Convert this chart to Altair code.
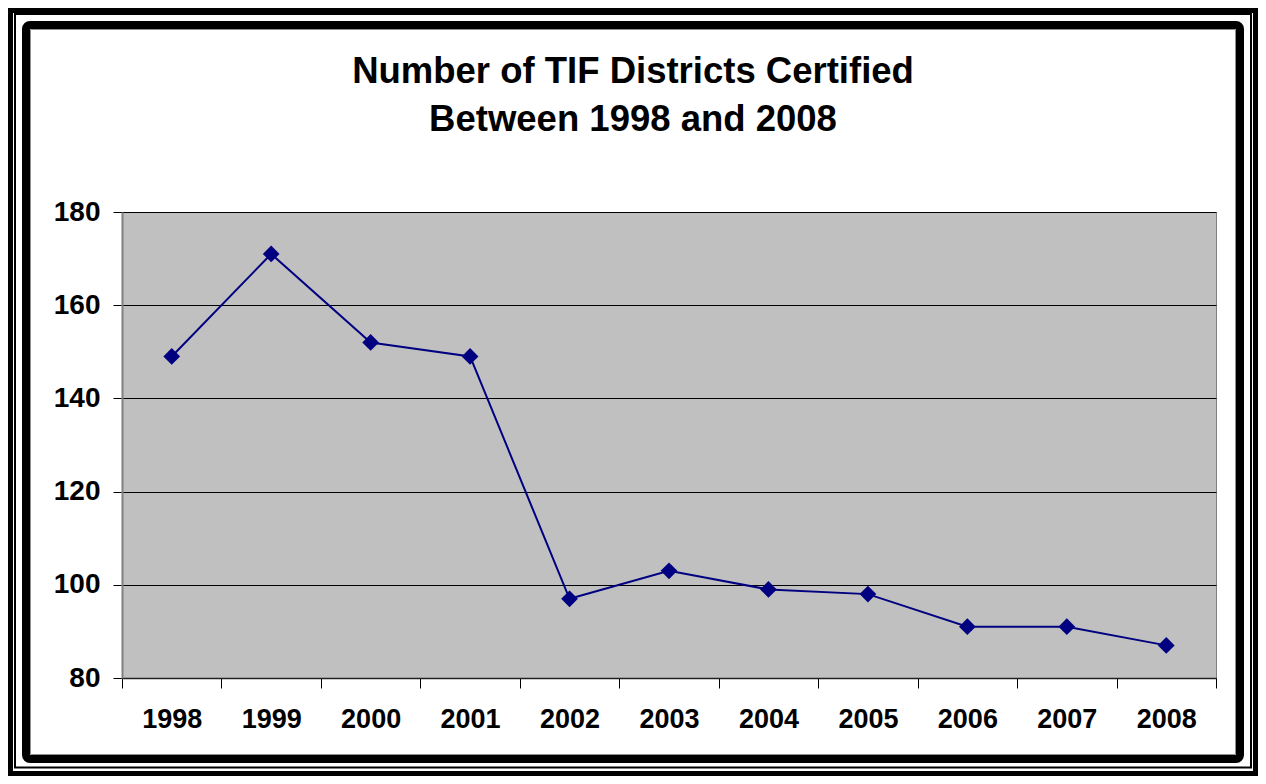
import altair as alt
import pandas as pd

years = ["1998", "1999", "2000", "2001", "2002", "2003", "2004", "2005", "2006", "2007", "2008"]
counts = [149, 171, 152, 149, 97, 103, 99, 98, 91, 91, 87]
y_ticks = [80, 100, 120, 140, 160, 180]
title_lines = ["Number of TIF Districts Certified", "Between 1998 and 2008"]

FONT = "Liberation Sans, Arial, sans-serif"

df = pd.DataFrame({"year": years, "count": counts})
dummy = pd.DataFrame({"k": [0]})

x_enc = alt.X(
    "year:O",
    sort=years,
    scale=alt.Scale(paddingInner=0, paddingOuter=0),
    axis=alt.Axis(
        title=None, labelAngle=0, tickBand="extent", tickSize=10,
        labelPadding=18, labelFontSize=27, labelFont=FONT, labelFontWeight="bold",
        labelColor="black", tickColor="black", domainColor="#202020", domainWidth=1.5,
        grid=False,
    ),
)
y_enc = alt.Y(
    "count:Q",
    scale=alt.Scale(domain=[80, 180], nice=False, zero=False),
    axis=alt.Axis(
        title=None, values=y_ticks, tickSize=9, labelPadding=13,
        labelFontSize=28, labelFont=FONT, labelFontWeight="bold", labelColor="black",
        tickColor="black", domainColor="#808080", domainWidth=2,
        grid=True, gridColor="black", gridWidth=1,
    ),
)

line = alt.Chart(df).mark_line(color="#000080", strokeWidth=2).encode(x=x_enc, y=y_enc)
pts = alt.Chart(df).mark_point(
    shape="diamond", filled=True, size=280, color="#000080", opacity=1
).encode(x=alt.X("year:O", sort=years), y="count:Q")


def frame(x, x2, y, y2, sw, color="black", radius=0):
    return alt.Chart(dummy).mark_rect(
        fillOpacity=0, stroke=color, strokeWidth=sw, cornerRadius=radius
    ).encode(x=alt.value(x), x2=alt.value(x2), y=alt.value(y), y2=alt.value(y2))


def title_text(txt, ypos):
    return alt.Chart(dummy).mark_text(
        font=FONT, fontSize=36.5, fontWeight="bold", color="black",
        align="center", baseline="alphabetic",
    ).encode(x=alt.value(511), y=alt.value(ypos), text=alt.value(txt))


outer = frame(-111.5, 1133.5, -201.5, 561.5, 5)
thin = frame(-107, 1129, -198, 555.5, 2)
inner = frame(-96, 1118, -187, 547, 8, radius=4)
shadow = frame(-91.5, 1113.5, -182.5, 542.5, 1, color="#909090")
t1 = title_text(title_lines[0], -129)
t2 = title_text(title_lines[1], -81)

chart = alt.layer(outer, thin, inner, shadow, t1, t2, line, pts).properties(
    width=1094,
    height=466,
    padding={"left": 114, "top": 204, "right": 42, "bottom": 98},
    autosize=alt.AutoSizeParams(type="none"),
).configure(background="white").configure_view(
    fill="#C0C0C0", stroke="#808080", strokeWidth=1
)

chart.save("out.html", embed_options={"renderer": "svg", "actions": False})
